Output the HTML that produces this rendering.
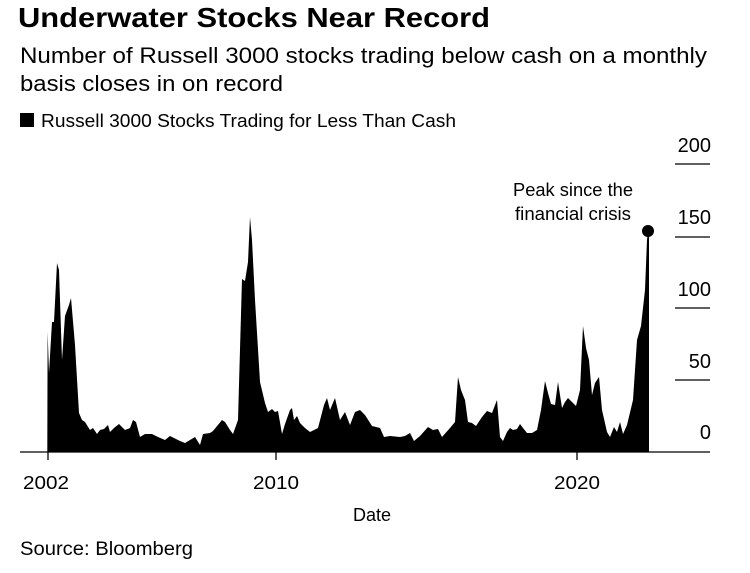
<!DOCTYPE html>
<html><head><style>
body{margin:0;background:#fff;width:750px;height:568px;overflow:hidden;font-family:"Liberation Sans",sans-serif;color:#000}
</style></head><body>
<svg width="750" height="568" xmlns="http://www.w3.org/2000/svg" font-family="Liberation Sans, sans-serif">
<text x="18" y="27" font-size="28" font-weight="bold" textLength="472" lengthAdjust="spacingAndGlyphs">Underwater Stocks Near Record</text>
<text x="20" y="63" font-size="22" textLength="687" lengthAdjust="spacingAndGlyphs">Number of Russell 3000 stocks trading below cash on a monthly</text>
<text x="20" y="91" font-size="22" textLength="263" lengthAdjust="spacingAndGlyphs">basis closes in on record</text>
<rect x="20" y="113" width="14" height="14" fill="#000"/>
<text x="41" y="127" font-size="18" textLength="415" lengthAdjust="spacingAndGlyphs">Russell 3000 Stocks Trading for Less Than Cash</text>
<g stroke="#000" stroke-width="1.3">
<line x1="675" y1="164" x2="710" y2="164"/>
<line x1="675" y1="237" x2="710" y2="237"/>
<line x1="675" y1="308" x2="710" y2="308"/>
<line x1="675" y1="380" x2="710" y2="380"/>
</g>
<g font-size="20" text-anchor="end">
<text x="711" y="152">200</text>
<text x="711" y="224">150</text>
<text x="711" y="296">100</text>
<text x="711" y="368">50</text>
<text x="711" y="439">0</text>
</g>
<polygon fill="#000" points="47.3,452 47.6,332 49,373 52,322 54,322 57,263 59,270 62,360 65,316 69,305 71,298 75,345 79,413 82,420 85,422 90,430 93,428 97,434 100,430 104,429 108,425 110,432 114,428 119,424 125,430 130,428 133,420 136,422 140,437 145,434 152,434 158,437 165,440 170,436 180,441 185,443 195,437 200,445 203,434 210,433 213,431 222,420 225,422 230,430 233,434 238,420 242,279 245,281 248,262 250,217 252,240 255,300 260,382 265,403 268,412 272,409 275,412 278,411 282,434 285,424 290,410 292,408 294,420 297,416 300,423 305,428 310,432 318,428 324,405 327,398 330,410 335,398 340,420 345,412 350,425 355,412 360,410 365,415 372,426 380,428 384,437 390,436 400,437 405,436 410,433 414,441 420,436 428,427 433,430 438,429 442,437 450,428 455,422 458,377 461,390 465,400 468,422 472,423 476,426 482,417 487,411 492,413 497,400 500,437 503,441 507,432 510,428 513,430 517,429 520,424 523,428 527,433 532,433 537,430 541,410 545,381 548,393 551,404 555,405 558,382 562,408 565,402 568,398 572,402 576,406 580,390 583,326 586,348 589,360 592,395 595,383 599,377 602,410 607,432 610,437 614,427 617,432 620,422 623,434 627,425 633,400 637,340 641,326 645,290 647,240 648,231 649,231 649,452"/>
<line x1="20" y1="452" x2="710" y2="452" stroke="#000" stroke-width="1.3"/>
<g stroke="#000" stroke-width="1.3">
<line x1="48" y1="452" x2="48" y2="460"/>
<line x1="276" y1="452" x2="276" y2="460"/>
<line x1="577" y1="452" x2="577" y2="460"/>
</g>
<circle cx="648" cy="231" r="6" fill="#000"/>
<text x="573" y="196" font-size="18" text-anchor="middle" textLength="120" lengthAdjust="spacingAndGlyphs">Peak since the</text>
<text x="573" y="220" font-size="18" text-anchor="middle" textLength="116" lengthAdjust="spacingAndGlyphs">financial crisis</text>
<g font-size="18" text-anchor="middle">
<text x="46" y="489" textLength="46" lengthAdjust="spacingAndGlyphs">2002</text>
<text x="276" y="489" textLength="46" lengthAdjust="spacingAndGlyphs">2010</text>
<text x="577" y="489" textLength="46" lengthAdjust="spacingAndGlyphs">2020</text>
<text x="372" y="521">Date</text>
</g>
<text x="20" y="555" font-size="19" textLength="173" lengthAdjust="spacingAndGlyphs">Source: Bloomberg</text>
</svg>
</body></html>
